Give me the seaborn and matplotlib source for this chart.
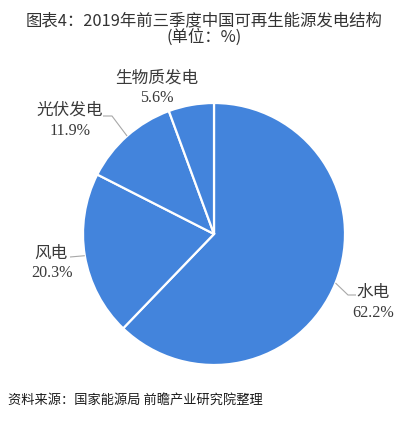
import numpy as np
import matplotlib
matplotlib.use("Agg")
import matplotlib.pyplot as plt
import seaborn as sns

# ---- data ----
categories = ["水电", "风电", "光伏发电", "生物质发电"]
values = [62.2, 20.3, 11.9, 5.6]
value_labels = ["62.2%", "20.3%", "11.9%", "5.6%"]
title_text = "图表4：2019年前三季度中国可再生能源发电结构\n(单位：%)"
source_text = "资料来源：国家能源局 前瞻产业研究院整理"

sns.set_theme(style="white")
plt.rcParams['font.family'] = ['Noto Sans CJK SC', 'DejaVu Sans']

W, H = 408, 433
DPI = 100
fig = plt.figure(figsize=(W / DPI, H / DPI), dpi=DPI)
ax = fig.add_axes([0, 0, 1, 1])

# pixel geometry of the pie
cx, cy, R = 214.0, 234.0, 131.0

def px(x, y):
    """pixel (origin top-left) -> data coords (unit radius)"""
    return (x - cx) / R, (cy - y) / R

pie_color = "#4384dc"
wedges, _ = ax.pie(values, colors=[pie_color] * len(values), startangle=90,
                   counterclock=False, radius=1.0,
                   wedgeprops=dict(edgecolor="white", linewidth=1.6))

ax.set_xlim((0 - cx) / R, (W - cx) / R)
ax.set_ylim((cy - H) / R, (cy - 0) / R)
ax.set_aspect("auto")
ax.axis("off")

# label layout (pixel positions)
name_pos = [(373, 292), (51, 253), (70, 110), (157, 78)]
val_pos = [(373, 313), (52, 273), (70, 131), (157, 98)]
leader = [
    [(348, 295), (356, 295)],
    [(70, 257)],
    [(112, 116), (103, 116)],
    None,
]

txt_color = "#3a3a3a"
for i, w in enumerate(wedges):
    ang = np.deg2rad((w.theta1 + w.theta2) / 2.0)
    sx, sy = np.cos(ang), np.sin(ang)
    nx, ny = px(*name_pos[i])
    vx, vy = px(*val_pos[i])
    ax.text(nx, ny, categories[i], ha="center", va="center", fontsize=12,
            color=txt_color, family=['Noto Sans CJK SC', 'DejaVu Sans'])
    ax.text(vx, vy, value_labels[i], ha="center", va="center", fontsize=11.6,
            color=txt_color, family=['Liberation Serif', 'DejaVu Serif'])
    if leader[i] is not None:
        xs = [sx] + [px(*p)[0] for p in leader[i]]
        ys = [sy] + [px(*p)[1] for p in leader[i]]
        ax.plot(xs, ys, color="#a8a8a8", lw=0.8, solid_capstyle="butt")

fig.text(0.5, 1 - 29 / H, title_text, ha="center", va="center", fontsize=11.8,
         color="#333333", linespacing=1.0)
fig.text(8 / W, 1 - 400 / H, source_text, ha="left", va="center", fontsize=9.5,
         color="#1a1a1a")

fig.savefig("out.png", dpi=DPI, facecolor="white")
